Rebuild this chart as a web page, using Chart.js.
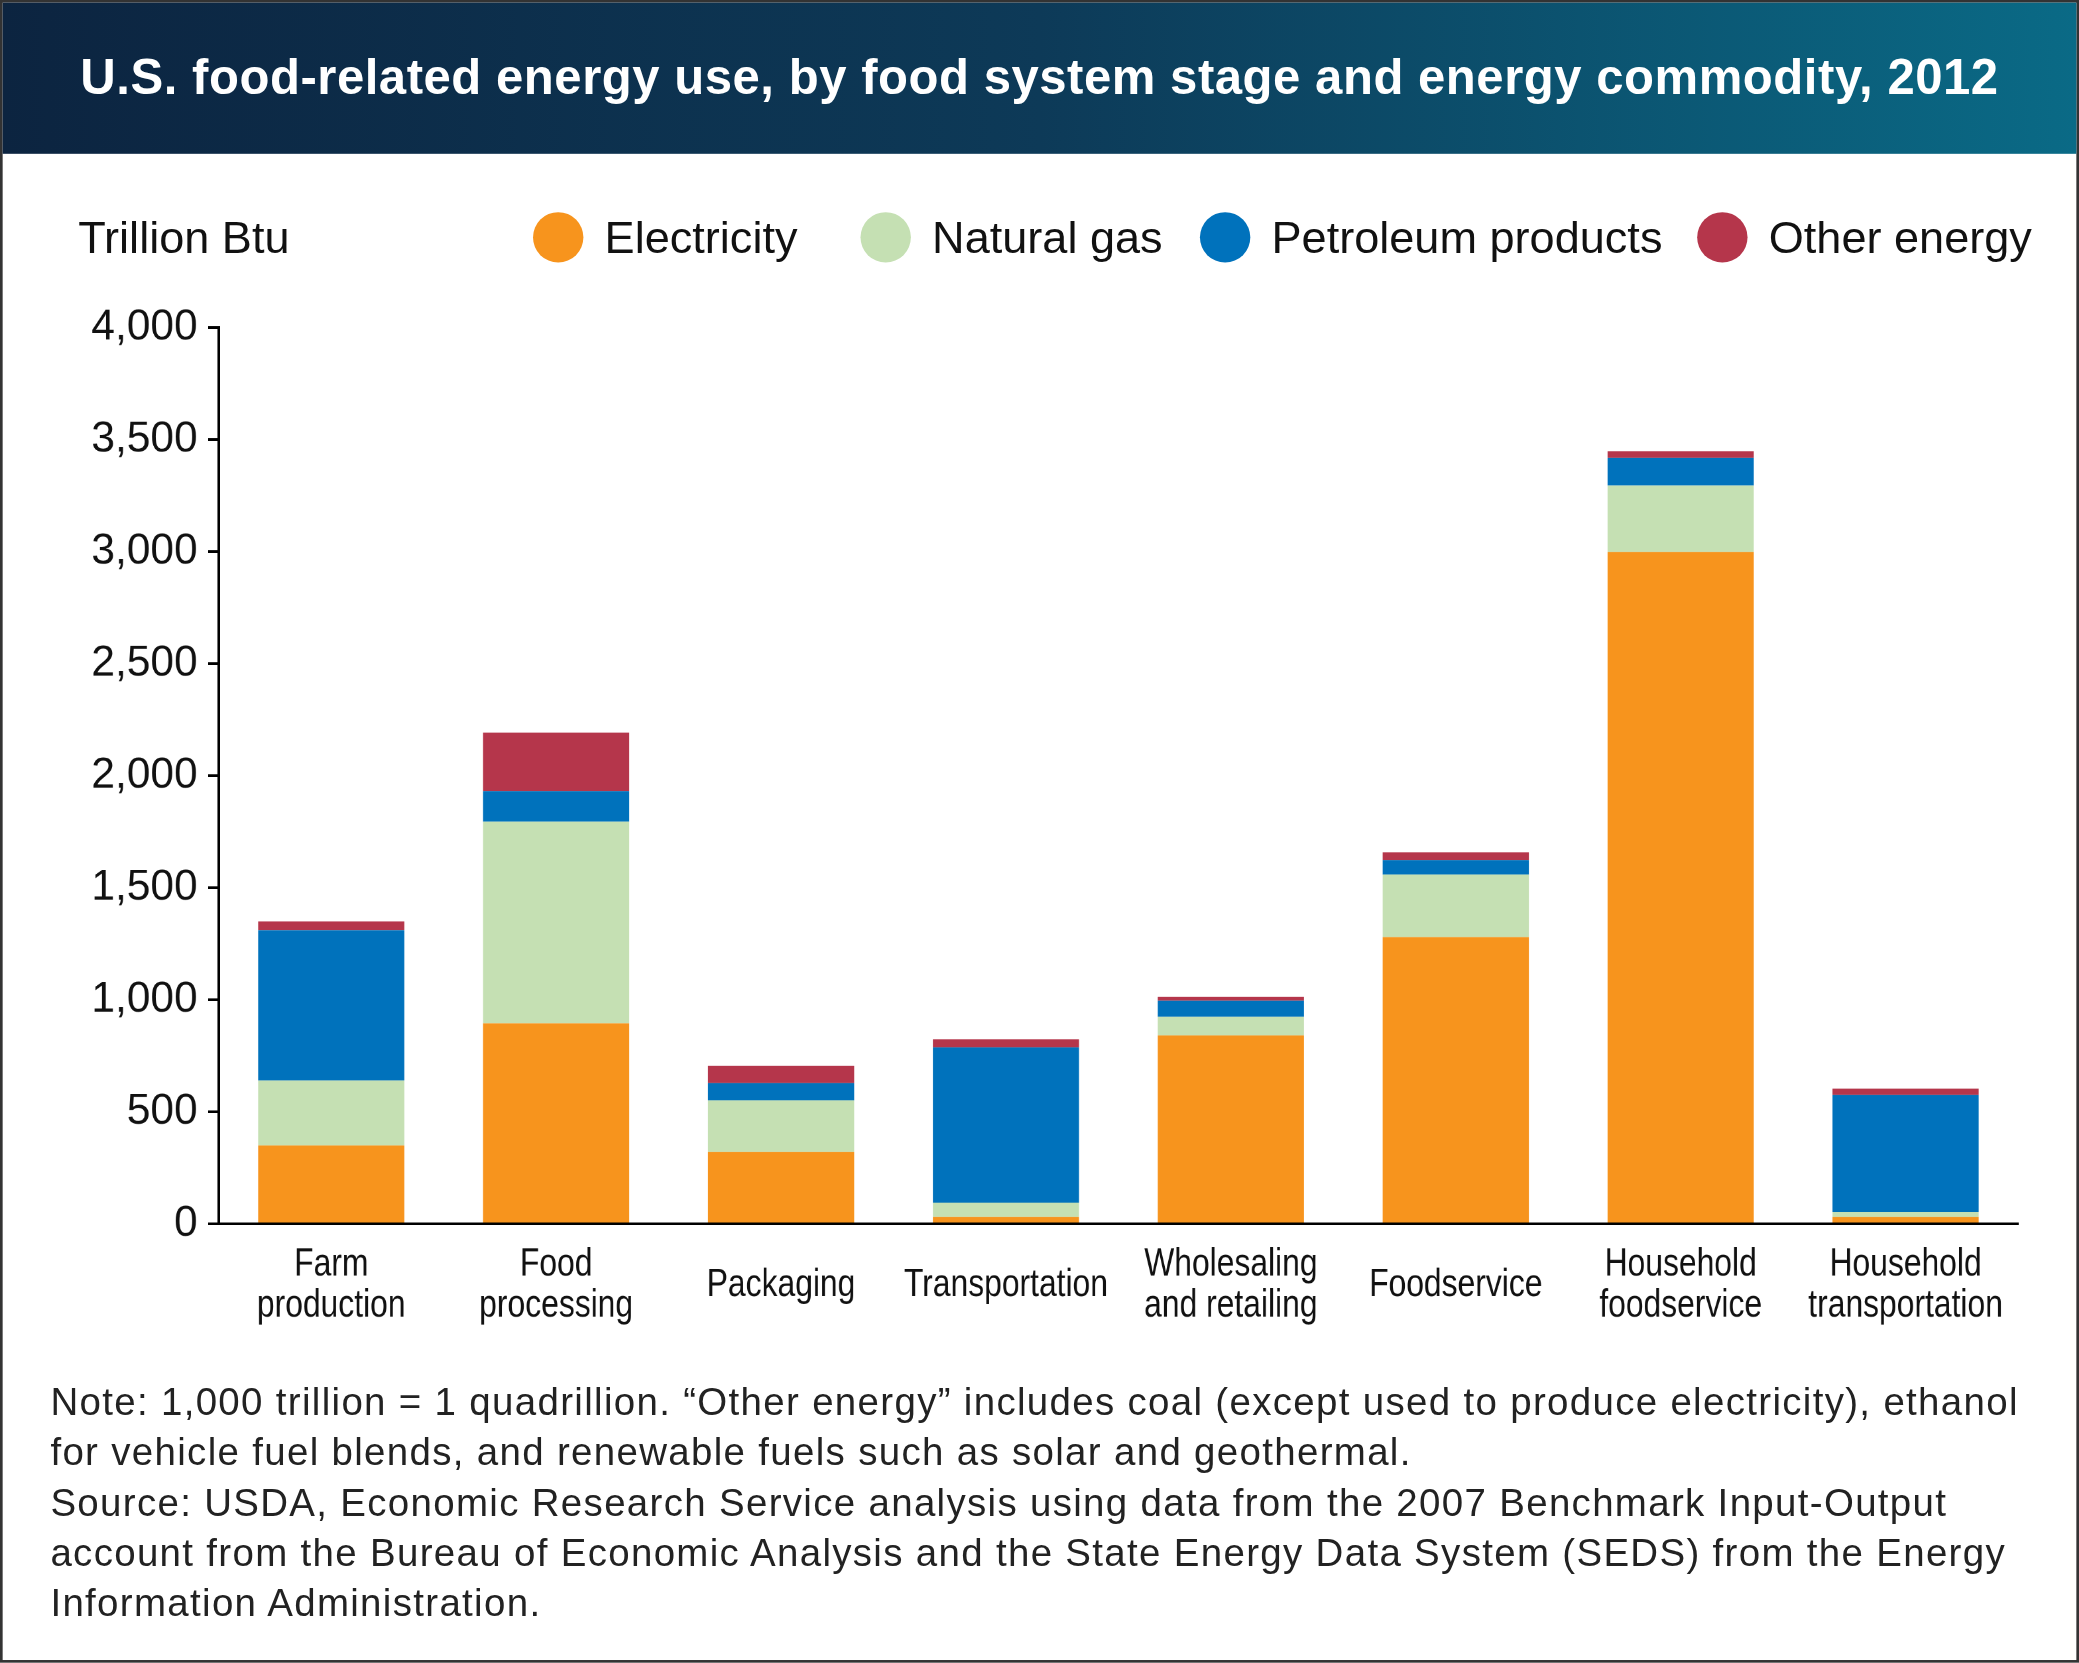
<!DOCTYPE html>
<html><head><meta charset="utf-8">
<script src="https://cdn.jsdelivr.net/npm/chart.js@4"></script>
<style>
html,body{margin:0;padding:0;background:#fff;overflow:hidden}
#wrap{position:absolute;left:0;top:0;width:1568px;height:1254px;transform:scale(1.3259);transform-origin:0 0;font-family:"Liberation Sans",Arial,sans-serif;box-sizing:border-box;border:2px solid #333}
#head{position:absolute;left:0;top:0;width:100%;height:114px;background:linear-gradient(90deg,#0c2440 0%,#0d3a58 50%,#0a6a86 100%);color:#fff;font-weight:bold;font-size:37px;letter-spacing:0.4px;line-height:114px;text-align:center}
.t{position:absolute;font-size:34px;color:#111;white-space:nowrap}
.dot{display:inline-block;width:38px;height:38px;border-radius:50%;vertical-align:-7px;margin-right:16px}
#note{position:absolute;left:36px;top:1036px;font-size:29px;letter-spacing:1px;line-height:38px;color:#222;white-space:nowrap}
#cv{position:absolute;left:0;top:218px;width:1568px;height:790px}
</style></head><body>
<div id="wrap">
<div id="head">U.S. food-related energy use, by food system stage and energy commodity, 2012</div>
<div class="t" style="left:57px;top:158px">Trillion Btu</div>
<div class="t" style="left:400px;top:158px"><span class="dot" style="background:#f7941d"></span>Electricity</div>
<div class="t" style="left:647px;top:158px"><span class="dot" style="background:#c5e0b3"></span>Natural gas</div>
<div class="t" style="left:903px;top:158px"><span class="dot" style="background:#0072bc"></span>Petroleum products</div>
<div class="t" style="left:1278px;top:158px"><span class="dot" style="background:#b5364b"></span>Other energy</div>
<div id="cv"><canvas id="c"></canvas></div>
<div id="note">Note: 1,000 trillion = 1 quadrillion. “Other energy” includes coal (except used to produce electricity), ethanol<br>for vehicle fuel blends, and renewable fuels such as solar and geothermal.<br>Source: USDA, Economic Research Service analysis using data from the 2007 Benchmark Input-Output<br>account from the Bureau of Economic Analysis and the State Energy Data System (SEDS) from the Energy<br>Information Administration.</div>
</div>
<script>
const categories = [["Farm","production"],["Food","processing"],["Packaging"],["Transportation"],["Wholesaling","and retailing"],["Foodservice"],["Household","foodservice"],["Household","transportation"]];
const electricity = [350, 895, 320, 30, 841, 1280, 2999, 30];
const naturalGas = [290, 900, 231, 65, 83, 279, 296, 23];
const petroleum = [670, 137, 77, 693, 72, 65, 124, 522];
const otherEnergy = [40, 261, 77, 36, 17, 35, 30, 29];
const yTicks = [0, 500, 1000, 1500, 2000, 2500, 3000, 3500, 4000];

// condensed category labels drawn at the x scale's positions
const narrowLabels = {
  id: 'narrowLabels',
  afterDraw(chart) {
    const {ctx, scales: {x}} = chart;
    ctx.save();
    ctx.fillStyle = '#111';
    ctx.font = '30px "Liberation Sans", Arial, sans-serif';
    ctx.textAlign = 'center';
    ctx.textBaseline = 'middle';
    categories.forEach((lines, i) => {
      const cx = x.getPixelForValue(i);
      const mid = x.top + 46;
      lines.forEach((s, j) => {
        const y = mid + (j - (lines.length - 1) / 2) * 31;
        ctx.save();
        ctx.translate(cx, y);
        ctx.scale(0.8, 1);
        ctx.fillText(s, 0, 0);
        ctx.restore();
      });
    });
    ctx.restore();
  }
};

const ds = (label, data, color) => ({label, data, backgroundColor: color, barPercentage: 0.65, categoryPercentage: 1});
new Chart(document.getElementById('c'), {
  type: 'bar',
  data: {
    labels: categories.map(l => l.join(' ')),
    datasets: [
      ds('Electricity', electricity, '#f7941d'),
      ds('Natural gas', naturalGas, '#c5e0b3'),
      ds('Petroleum products', petroleum, '#0072bc'),
      ds('Other energy', otherEnergy, '#b5364b')
    ]
  },
  plugins: [narrowLabels],
  options: {
    responsive: true, maintainAspectRatio: false, animation: false, devicePixelRatio: 2,
    layout: {padding: {top: 2, right: 48}},
    plugins: {legend: {display: false}, tooltip: {enabled: false}},
    scales: {
      x: {
        stacked: true,
        grid: {display: false},
        border: {display: true, color: '#000', width: 2},
        ticks: {display: false},
        afterFit: s => { s.height = 87; }
      },
      y: {
        stacked: true, min: 0, max: 4000,
        afterBuildTicks: s => { s.ticks = yTicks.map(v => ({value: v})); },
        grid: {drawOnChartArea: false, drawTicks: true, tickLength: 8, color: '#000', lineWidth: 2},
        border: {display: true, color: '#000', width: 2},
        ticks: {color: '#111', padding: 8, font: {family: '"Liberation Sans",Arial,sans-serif', size: 32},
          callback: v => v.toLocaleString('en-US')},
        afterFit: s => { s.width = 163; }
      }
    }
  }
});
</script>
</body></html>
